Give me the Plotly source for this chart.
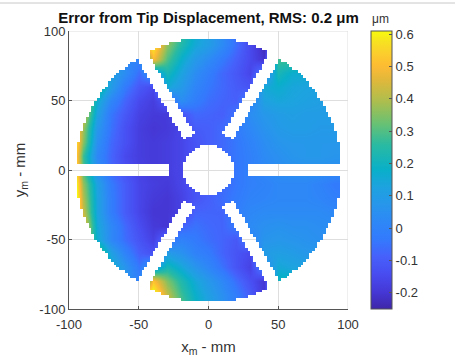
import numpy as np
import plotly.graph_objects as go

# ---------------- data ----------------
X_MM = list(range(-100, 101, 10))
Y_MM = list(range(100, -101, -10))          # rows below run top -> bottom

ERR_UM = [
    [0.60, 0.60, 0.60, 0.60, 0.60, 0.60, 0.62, 0.42, 0.28, 0.17, 0.11, 0.04, -0.06, -0.16, -0.24, 0.10, 0.25, 0.25, 0.25, 0.25, 0.25],
    [0.60, 0.60, 0.60, 0.60, 0.60, 0.55, 0.60, 0.36, 0.24, 0.15, 0.10, 0.03, -0.06, -0.15, -0.23, 0.05, 0.28, 0.28, 0.28, 0.28, 0.28],
    [0.30, 0.30, 0.20, 0.10, 0.03, 0.00, 0.50, 0.30, 0.18, 0.09, 0.03, -0.03, -0.09, -0.15, -0.21, 0.28, 0.28, 0.26, 0.26, 0.26, 0.26],
    [0.30, 0.30, 0.20, 0.12, 0.04, -0.06, 0.08, 0.22, 0.13, 0.04, -0.02, -0.07, -0.11, -0.16, 0.00, 0.22, 0.17, 0.16, 0.16, 0.16, 0.16],
    [0.45, 0.45, 0.28, 0.10, -0.03, -0.11, -0.15, 0.15, 0.09, 0.01, -0.04, -0.07, -0.10, -0.12, 0.15, 0.17, 0.14, 0.13, 0.13, 0.13, 0.13],
    [0.55, 0.45, 0.17, 0.01, -0.08, -0.15, -0.18, -0.10, 0.04, -0.02, -0.06, -0.08, -0.09, 0.00, 0.12, 0.14, 0.13, 0.12, 0.11, 0.11, 0.11],
    [0.60, 0.45, 0.12, -0.04, -0.11, -0.17, -0.19, -0.19, -0.12, -0.07, -0.08, -0.09, -0.05, 0.04, 0.08, 0.10, 0.11, 0.10, 0.10, 0.10, 0.10],
    [0.70, 0.38, 0.08, -0.05, -0.13, -0.18, -0.20, -0.19, -0.16, -0.10, -0.09, -0.07, -0.03, 0.02, 0.06, 0.09, 0.10, 0.10, 0.09, 0.09, 0.09],
    [0.80, 0.36, 0.05, -0.07, -0.13, -0.18, -0.19, -0.18, -0.16, -0.12, -0.09, -0.07, -0.04, 0.00, 0.04, 0.07, 0.08, 0.08, 0.08, 0.08, 0.08],
    [0.82, 0.28, 0.02, -0.08, -0.15, -0.18, -0.19, -0.18, -0.16, -0.12, -0.09, -0.07, -0.04, -0.01, 0.03, 0.05, 0.07, 0.08, 0.08, 0.07, 0.07],
    [0.85, 0.30, 0.05, -0.07, -0.13, -0.17, -0.19, -0.18, -0.16, -0.12, -0.09, -0.07, -0.04, -0.01, 0.02, 0.04, 0.05, 0.05, 0.05, 0.04, 0.04],
    [0.88, 0.37, 0.12, -0.03, -0.10, -0.16, -0.18, -0.19, -0.16, -0.12, -0.09, -0.07, -0.04, -0.01, 0.00, 0.02, 0.02, 0.02, 0.00, -0.03, -0.04],
    [0.90, 0.40, 0.13, -0.02, -0.10, -0.16, -0.19, -0.20, -0.17, -0.12, -0.09, -0.06, -0.03, 0.00, 0.01, 0.02, 0.02, 0.02, 0.01, -0.01, -0.02],
    [0.85, 0.43, 0.13, -0.02, -0.10, -0.16, -0.20, -0.20, -0.17, -0.08, -0.08, -0.08, -0.02, 0.02, 0.03, 0.03, 0.03, 0.03, 0.03, 0.02, 0.02],
    [0.80, 0.50, 0.15, 0.02, -0.07, -0.14, -0.19, -0.20, -0.08, -0.05, -0.07, -0.08, -0.03, 0.03, 0.05, 0.06, 0.05, 0.05, 0.04, 0.04, 0.04],
    [0.70, 0.45, 0.17, 0.02, -0.06, -0.12, -0.17, -0.05, 0.00, -0.03, -0.06, -0.08, -0.11, 0.00, 0.07, 0.08, 0.07, 0.06, 0.05, 0.05, 0.05],
    [0.60, 0.50, 0.35, 0.12, 0.00, -0.09, -0.13, 0.10, 0.06, 0.00, -0.03, -0.08, -0.12, -0.15, 0.10, 0.11, 0.10, 0.08, 0.08, 0.08, 0.08],
    [0.40, 0.40, 0.30, 0.18, 0.07, -0.04, 0.10, 0.22, 0.15, 0.07, 0.01, -0.05, -0.12, -0.17, 0.02, 0.15, 0.13, 0.12, 0.12, 0.12, 0.12],
    [0.30, 0.30, 0.20, 0.10, 0.05, 0.00, 0.52, 0.35, 0.24, 0.15, 0.08, 0.02, -0.06, -0.13, -0.20, 0.20, 0.20, 0.20, 0.20, 0.20, 0.20],
    [0.60, 0.60, 0.60, 0.60, 0.60, 0.60, 0.65, 0.42, 0.28, 0.18, 0.11, 0.05, -0.02, -0.10, -0.20, 0.20, 0.20, 0.20, 0.20, 0.20, 0.20],
    [0.65, 0.65, 0.65, 0.65, 0.65, 0.65, 0.68, 0.48, 0.32, 0.20, 0.13, 0.06, -0.02, -0.12, -0.22, 0.20, 0.20, 0.20, 0.20, 0.20, 0.20],
]

TITLE = "Error from Tip Displacement, RMS: 0.2 μm"
X_LABEL = "x<sub>m</sub> - mm"
Y_LABEL = "y<sub>m</sub> - mm"
CBAR_LABEL = "μm"
AXIS_TICKS = [-100, -50, 0, 50, 100]
AXIS_TICKTEXT = ["-100", "-50", "0", "50", "100"]
CBAR_TICKS = [-0.2, -0.1, 0, 0.1, 0.2, 0.3, 0.4, 0.5, 0.6]
CBAR_TICKTEXT = ["-0.2", "-0.1", "0", "0.1", "0.2", "0.3", "0.4", "0.5", "0.6"]
C_MIN, C_MAX = -0.25, 0.61

# ---------------- aperture geometry (mm) ----------------
R_OUT = 95.0
R_HOLE = 18.0
SPOKE_START = 28.0
SPOKE_HALF = 4.3
SPOKE_ANGLES = [0, 60, 120, 180, 240, 300]
CELL = 2.0
GRID_LINES = [-50, 0, 50]
LINE_HALF = 0.36

PARULA = [
    [0.000, "rgb(62,38,168)"],
    [0.063, "rgb(69,56,215)"],
    [0.125, "rgb(72,76,240)"],
    [0.188, "rgb(70,96,251)"],
    [0.251, "rgb(51,122,253)"],
    [0.310, "rgb(46,135,247)"],
    [0.376, "rgb(39,150,235)"],
    [0.440, "rgb(29,163,223)"],
    [0.500, "rgb(9,175,201)"],
    [0.590, "rgb(41,186,162)"],
    [0.667, "rgb(105,193,115)"],
    [0.745, "rgb(171,190,78)"],
    [0.824, "rgb(225,184,59)"],
    [0.863, "rgb(248,186,54)"],
    [0.882, "rgb(253,190,49)"],
    [0.920, "rgb(251,206,45)"],
    [0.960, "rgb(246,225,33)"],
    [1.000, "rgb(249,251,14)"],
]

# ---------------- figure ----------------
fig = go.Figure()

fig.add_trace(go.Heatmap(
    x=X_MM, y=Y_MM[::-1], z=ERR_UM[::-1],
    zsmooth="best", zmin=C_MIN, zmax=C_MAX, colorscale=PARULA,
    hoverinfo="skip",
    colorbar=dict(
        x=1.0824, xanchor="left", y=0.5, yanchor="middle",
        len=1.0, lenmode="fraction", thickness=21, thicknessmode="pixels",
        outlinewidth=1, outlinecolor="#555555",
        ticks="inside", ticklen=3, tickcolor="#555555",
        tickvals=CBAR_TICKS, ticktext=CBAR_TICKTEXT,
        tickfont=dict(size=13, color="#333333"),
        xpad=0, ypad=0,
    ),
))

# aperture mask (white outside the pupil, with grid lines showing through)
edges = np.arange(-100, 100 + 1e-9, CELL)
extra = [g + s * LINE_HALF for g in GRID_LINES for s in (-1, 1)]
edges = np.unique(np.round(np.concatenate([edges, extra]), 6))
cent = 0.5 * (edges[:-1] + edges[1:])
pidx = np.clip(np.floor((cent + 100) / CELL), 0, int(200 / CELL) - 1)
pc = -100 + CELL * (pidx + 0.5)
on_line = np.zeros(cent.shape, bool)
for g in GRID_LINES:
    on_line |= np.abs(cent - g) < LINE_HALF
PX, PY = np.meshgrid(pc, pc)
rr = np.hypot(PX, PY)
inside = (rr <= R_OUT) & (rr >= R_HOLE)
for a in SPOKE_ANGLES:
    t = np.radians(a)
    along = PX * np.cos(t) + PY * np.sin(t)
    across = -PX * np.sin(t) + PY * np.cos(t)
    inside &= ~((along >= SPOKE_START) & (np.abs(across) <= SPOKE_HALF))
LX, LY = np.meshgrid(on_line, on_line)
mask_vals = np.where(LX | LY, 1.0, 0.0)
mask_z = [[None if inside[i, j] else float(mask_vals[i, j]) for j in range(len(cent))]
          for i in range(len(cent))]

fig.add_trace(go.Heatmap(
    x=edges.tolist(), y=edges.tolist(), z=mask_z,
    zmin=0, zmax=1, colorscale=[[0, "#ffffff"], [1, "#dedede"]],
    showscale=False, hoverinfo="skip",
))

axis_common = dict(
    range=[-100, 100], tickvals=AXIS_TICKS, ticktext=AXIS_TICKTEXT,
    ticks="inside", ticklen=3, tickcolor="#555555",
    showline=True, linecolor="#555555", linewidth=1,
    showgrid=False, zeroline=False, automargin=False,
    tickfont=dict(size=13, color="#333333"),
)

fig.update_layout(
    width=455, height=360,
    margin=dict(l=69, r=107, t=31, b=51),
    paper_bgcolor="white", plot_bgcolor="white",
    font=dict(family="Liberation Sans, Arial, sans-serif", color="#262626"),
    title=dict(text="<b>" + TITLE + "</b>", x=0.5, xref="paper", xanchor="center",
               y=1 - 18 / 360, yref="container", yanchor="middle",
               font=dict(size=15, color="#111111")),
    xaxis=dict(**axis_common, ticklabelstandoff=3,
               title=dict(text=X_LABEL, font=dict(size=15, color="#333333"), standoff=10)),
    yaxis=dict(**axis_common,
               title=dict(text=Y_LABEL, font=dict(size=15, color="#333333"), standoff=10)),
    annotations=[
        dict(text=CBAR_LABEL, xref="paper", yref="paper", x=(381 - 69) / 279,
             y=1 + (31 - 19) / 278, xanchor="center", yanchor="middle",
             showarrow=False, font=dict(size=12, color="#333333")),
    ],
    shapes=[
        dict(type="line", xref="x", yref="y", x0=-100, x1=100, y0=100, y1=100,
             line=dict(color="#dedede", width=1), layer="above"),
        dict(type="line", xref="x", yref="y", x0=100, x1=100, y0=-100, y1=100,
             line=dict(color="#dedede", width=1), layer="above"),
        dict(type="line", xref="paper", yref="paper", x0=-0.25, x1=1.39,
             y0=1 + 28 / 278, y1=1 + 28 / 278, line=dict(color="#c8c8c8", width=1)),
    ],
)

fig.write_html("out.html")
